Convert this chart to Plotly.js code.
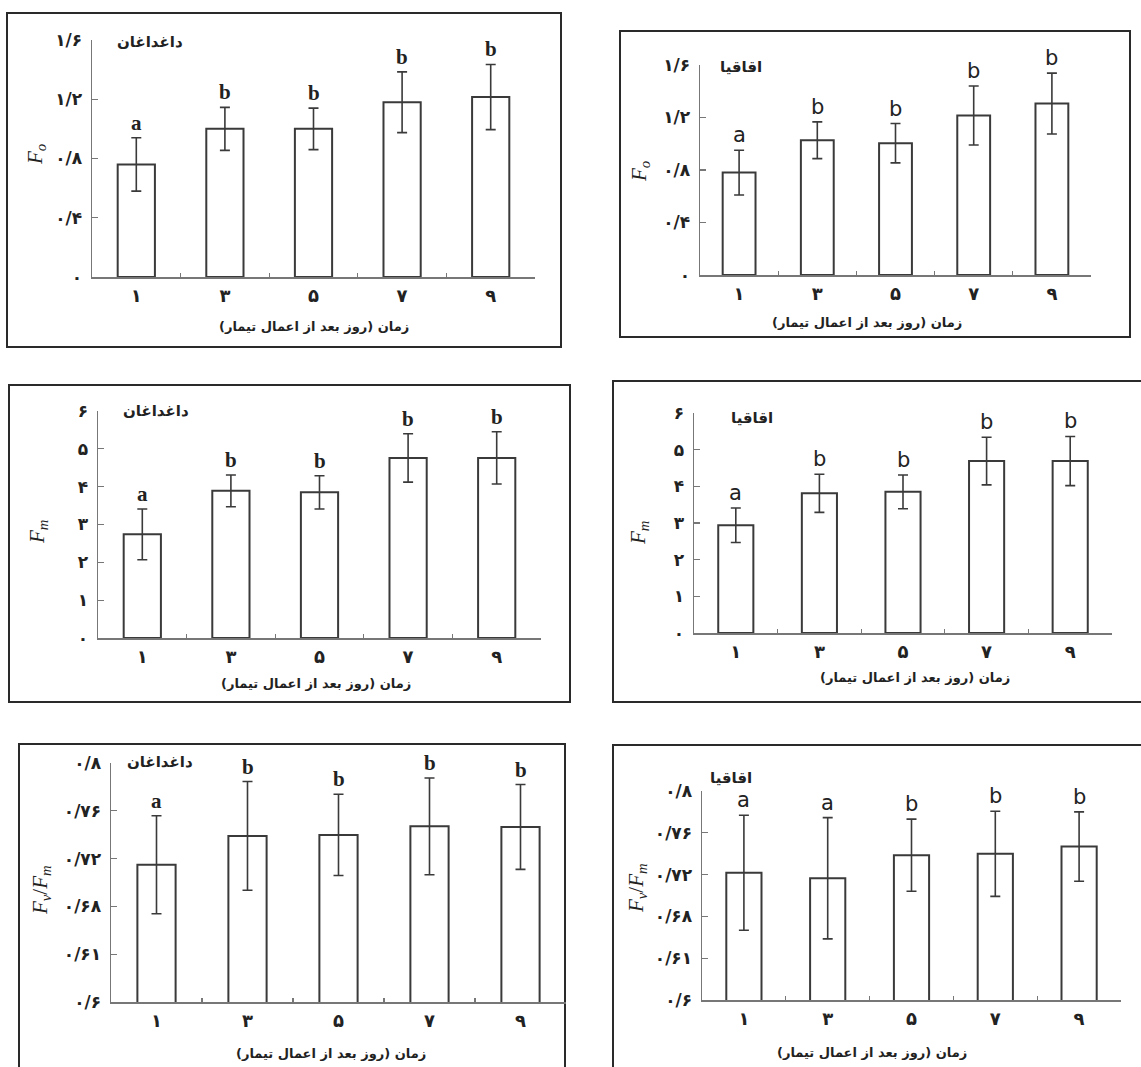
<!DOCTYPE html>
<html>
<head>
<meta charset="utf-8">
<script src="https://cdn.plot.ly/plotly-3.0.1.min.js"></script>
<style>html,body{margin:0;padding:0;background:#fff;}#chart{width:1141px;height:1067px;}</style>
</head>
<body>
<div id="chart"></div>
<script>
// ---------- DATA ----------
const days = ['۱', '۳', '۵', '۷', '۹'];
const xTitle = 'زمان (روز بعد از اعمال تیمار)';
const speciesA = 'داغداغان';
const speciesB = 'اقاقیا';

const foTickVals = [0, 0.4, 0.8, 1.2, 1.6];
const foTickText = ['۰', '۰/۴', '۰/۸', '۱/۲', '۱/۶'];
const fmTickVals = [0, 1, 2, 3, 4, 5, 6];
const fmTickText = ['۰', '۱', '۲', '۳', '۴', '۵', '۶'];
const fvTickVals = [0.6, 0.64, 0.68, 0.72, 0.76, 0.8];
const fvTickText = ['۰/۶', '۰/۶۱', '۰/۶۸', '۰/۷۲', '۰/۷۶', '۰/۸'];

const foDagh = [0.76, 1.00, 1.00, 1.18, 1.215];
const foDaghErr = [0.18, 0.145, 0.14, 0.205, 0.22];
const foDaghLetters = ['a', 'b', 'b', 'b', 'b'];

const foAqaq = [0.78, 1.027, 1.004, 1.215, 1.306];
const foAqaqErr = [0.17, 0.14, 0.15, 0.225, 0.232];
const foAqaqLetters = ['a', 'b', 'b', 'b', 'b'];

const fmDagh = [2.74, 3.89, 3.85, 4.76, 4.76];
const fmDaghErr = [0.67, 0.42, 0.44, 0.64, 0.69];
const fmDaghLetters = ['a', 'b', 'b', 'b', 'b'];

const fmAqaq = [2.94, 3.81, 3.85, 4.69, 4.69];
const fmAqaqErr = [0.47, 0.52, 0.46, 0.65, 0.67];
const fmAqaqLetters = ['a', 'b', 'b', 'b', 'b'];

const fvDagh = [0.7148, 0.739, 0.7398, 0.747, 0.7465];
const fvDaghErr = [0.041, 0.0455, 0.034, 0.0405, 0.0355];
const fvDaghLetters = ['a', 'b', 'b', 'b', 'b'];

const fvAqaq = [0.7218, 0.7165, 0.7386, 0.7399, 0.7468];
const fvAqaqErr = [0.055, 0.058, 0.0345, 0.0407, 0.0332];
const fvAqaqLetters = ['a', 'a', 'b', 'b', 'b'];

// ---------- LAYOUT HELPERS ----------
const W = 1141, H = 1067;
const px = v => v / W;
const py = v => 1 - v / H;

const FA = 'DejaVu Sans, Noto Sans, sans-serif';
const SERIF = 'Liberation Serif, DejaVu Serif, serif';

const panels = [
  {vals: foDagh, err: foDaghErr, letters: foDaghLetters, species: speciesA,
   ytitle: '<i>F</i><sub><i>o</i></sub>', tv: foTickVals, tt: foTickText, range: [0, 1.6],
   ax: [92, 535], ay: [277, 40], frame: [7, 13, 561, 347],
   yt: [36, 155], sp: [150, 42], xt: [314, 327], letterFont: SERIF, letterWeight: 'bold'},
  {vals: foAqaq, err: foAqaqErr, letters: foAqaqLetters, species: speciesB,
   ytitle: '<i>F</i><sub><i>o</i></sub>', tv: foTickVals, tt: foTickText, range: [0, 1.6],
   ax: [700, 1091], ay: [275, 65], frame: [620, 31, 1130, 337],
   yt: [640, 172], sp: [741, 67], xt: [867, 322], letterFont: FA, letterWeight: 'normal'},
  {vals: fmDagh, err: fmDaghErr, letters: fmDaghLetters, species: speciesA,
   ytitle: '<i>F</i><sub><i>m</i></sub>', tv: fmTickVals, tt: fmTickText, range: [0, 6],
   ax: [98, 541], ay: [638, 411], frame: [9, 385, 570, 702],
   yt: [38, 532], sp: [156, 411], xt: [316, 683], letterFont: SERIF, letterWeight: 'bold'},
  {vals: fmAqaq, err: fmAqaqErr, letters: fmAqaqLetters, species: speciesB,
   ytitle: '<i>F</i><sub><i>m</i></sub>', tv: fmTickVals, tt: fmTickText, range: [0, 6],
   ax: [694, 1112], ay: [633, 413], frame: [613, 381, 1150, 702],
   yt: [639, 533], sp: [752, 418], xt: [915, 677], letterFont: FA, letterWeight: 'normal'},
  {vals: fvDagh, err: fvDaghErr, letters: fvDaghLetters, species: speciesA,
   ytitle: '<i>F</i><sub><i>v</i></sub>/<i>F</i><sub><i>m</i></sub>', tv: fvTickVals, tt: fvTickText, range: [0.6, 0.8],
   ax: [111, 566], ay: [1002, 763], frame: [19, 744, 565, 1080],
   yt: [41, 890], sp: [160, 762], xt: [331, 1053], letterFont: SERIF, letterWeight: 'bold'},
  {vals: fvAqaq, err: fvAqaqErr, letters: fvAqaqLetters, species: speciesB,
   ytitle: '<i>F</i><sub><i>v</i></sub>/<i>F</i><sub><i>m</i></sub>', tv: fvTickVals, tt: fvTickText, range: [0.6, 0.8],
   ax: [702, 1121], ay: [1000, 791], frame: [613, 745, 1150, 1080],
   yt: [637, 888], sp: [731, 778], xt: [872, 1052], letterFont: FA, letterWeight: 'normal'}
];

const data = [];
const layout = {
  width: W, height: H,
  margin: {l: 0, r: 0, t: 0, b: 0},
  paper_bgcolor: '#ffffff',
  plot_bgcolor: 'rgba(0,0,0,0)',
  showlegend: false,
  annotations: [],
  shapes: []
};

panels.forEach((p, i) => {
  const n = i + 1;
  const xa = 'x' + (n === 1 ? '' : n);
  const ya = 'y' + (n === 1 ? '' : n);
  const xk = 'xaxis' + (n === 1 ? '' : n);
  const yk = 'yaxis' + (n === 1 ? '' : n);

  data.push({
    type: 'bar', x: days, y: p.vals, xaxis: xa, yaxis: ya,
    width: 0.42,
    marker: {color: '#ffffff', line: {color: '#3a3a3a', width: 2}},
    error_y: {type: 'data', array: p.err, visible: true, color: '#3a3a3a', thickness: 1.6, width: 5},
    cliponaxis: false,
    hoverinfo: 'skip'
  });

  layout[xk] = {
    type: 'category', domain: [px(p.ax[0]), px(p.ax[1])], anchor: ya,
    range: [-0.5, 4.5], tickson: 'boundaries', ticks: 'inside', ticklen: 4,
    tickcolor: '#777', tickwidth: 1.2,
    showline: true, linecolor: '#777', linewidth: 1.5,
    showgrid: false, zeroline: false, fixedrange: true,
    tickfont: {family: FA, size: 18, color: '#222', weight: 'bold'}, ticklabelstandoff: 2
  };
  layout[yk] = {
    domain: [py(p.ay[0]), py(p.ay[1])], anchor: xa,
    range: p.range, tickvals: p.tv, ticktext: p.tt,
    ticks: 'inside', ticklen: 6, tickcolor: '#777', tickwidth: 1.2,
    showline: true, linecolor: '#777', linewidth: 1.5,
    showgrid: false, zeroline: false, fixedrange: true,
    tickfont: {family: FA, size: 17, color: '#222', weight: 'bold'}, ticklabelstandoff: 5
  };

  // significance letters above the error bars
  p.letters.forEach((L, k) => {
    layout.annotations.push({
      x: days[k], y: p.vals[k] + p.err[k], xref: xa, yref: ya,
      text: L, showarrow: false, yanchor: 'bottom', yshift: 1,
      font: {family: p.letterFont, size: 21, color: '#222', weight: p.letterWeight}
    });
  });

  // y-axis title
  layout.annotations.push({
    x: px(p.yt[0]), y: py(p.yt[1]), xref: 'paper', yref: 'paper',
    text: p.ytitle, textangle: -90, showarrow: false,
    xanchor: 'center', yanchor: 'middle',
    font: {family: SERIF, size: 21, color: '#222'}
  });
  // species label
  layout.annotations.push({
    x: px(p.sp[0]), y: py(p.sp[1]), xref: 'paper', yref: 'paper',
    text: '<b>' + p.species + '</b>', showarrow: false,
    xanchor: 'center', yanchor: 'middle',
    font: {family: FA, size: 15, color: '#222'}
  });
  // x-axis title
  layout.annotations.push({
    x: px(p.xt[0]), y: py(p.xt[1]), xref: 'paper', yref: 'paper',
    text: '<b>' + xTitle + '</b>', showarrow: false,
    xanchor: 'center', yanchor: 'middle',
    font: {family: FA, size: 13, color: '#222'}
  });
  // panel frame
  layout.shapes.push({
    type: 'rect', xref: 'paper', yref: 'paper',
    x0: px(p.frame[0]), x1: px(p.frame[2]), y0: py(p.frame[3]), y1: py(p.frame[1]),
    line: {color: '#2a2a2a', width: 2}, fillcolor: 'rgba(0,0,0,0)', layer: 'below'
  });
});

Plotly.newPlot('chart', data, layout, {displayModeBar: false, staticPlot: true});
</script>
</body>
</html>
